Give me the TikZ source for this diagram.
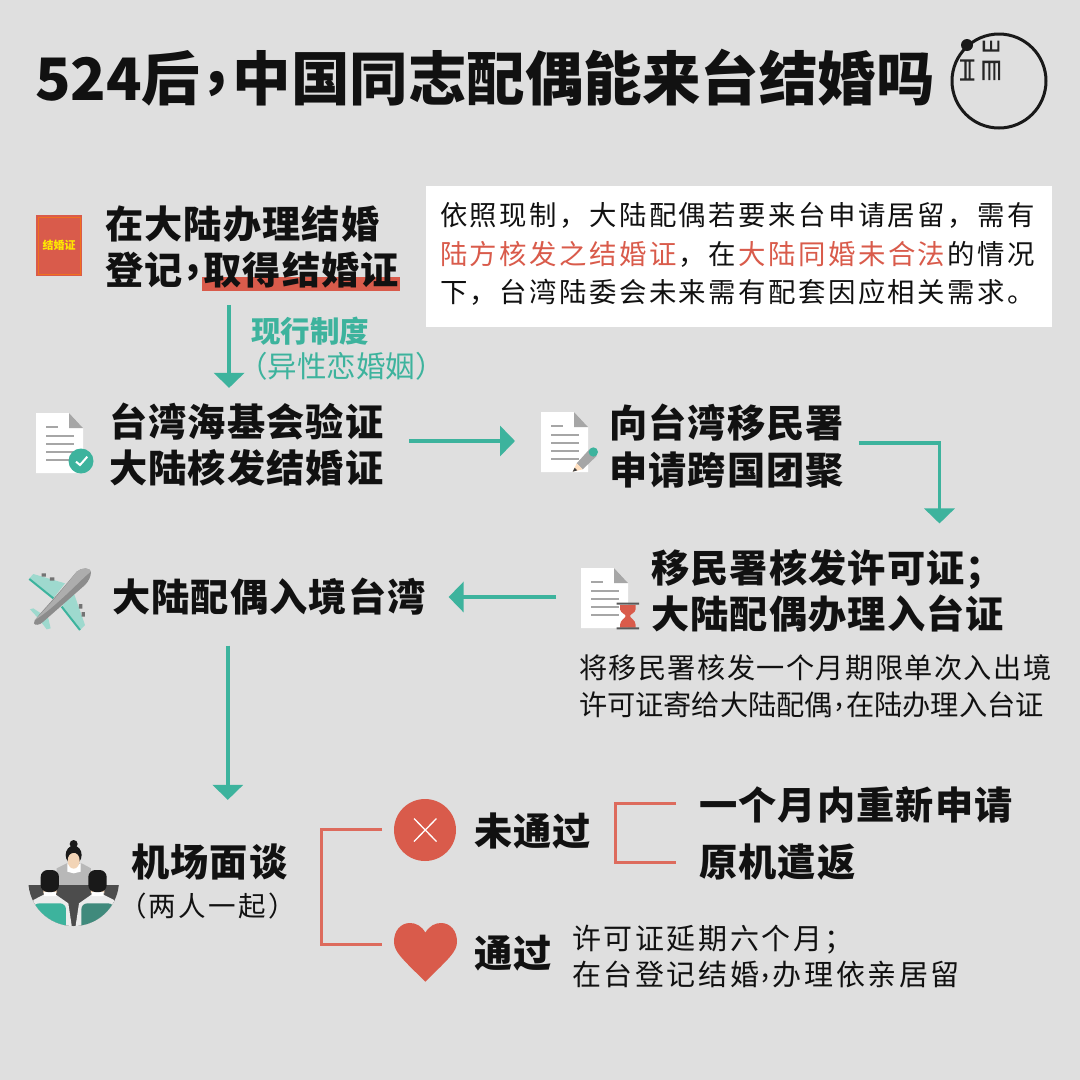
\documentclass[tikz,border=0pt]{standalone}
\usepackage{fontspec}
\setmainfont{Noto Sans CJK SC}
\newfontfamily\spacedfont[LetterSpace=9]{Noto Sans CJK SC}
\newfontfamily\tightfont[LetterSpace=5]{Noto Sans CJK SC}
\newfontfamily\headfont[LetterSpace=3]{Noto Sans CJK SC}
\usetikzlibrary{arrows.meta,calc}
\definecolor{bgcol}{HTML}{DFDFDF}
\definecolor{redcol}{HTML}{D95B4B}
\definecolor{tealcol}{HTML}{3DB39D}
\definecolor{inkcol}{HTML}{111111}
\newcommand{\midcomma}{\hspace{.1em}\raisebox{.3em}{,}\hspace{.1em}}
\tikzset{
	docicon/.pic={
		\fill[white] (0,0) -- (33,0) -- (47,15) -- (47,60) -- (0,60) -- cycle;
		\fill[black!35] (33,0) -- (47,15) -- (33,15) -- cycle;
		\draw[black!35, line width=2pt] (10,14) -- (22,14);
		\foreach \liney in {23,31,39,47} {
			\draw[black!35, line width=2pt] (10,\liney) -- (38,\liney);
		}
	}
}
\begin{document}
\begin{tikzpicture}[x=1pt, y=-1pt,
		every node/.style = {inner sep=0pt, outer sep=0pt, text=inkcol},
		headtext/.style = {anchor=west, align=left, font=\headfont\bfseries\fontsize{38.2}{46}\selectfont},
		bodytext/.style = {anchor=west, align=left, font=\spacedfont\fontsize{27.4}{38.5}\selectfont},
		sidetext/.style = {anchor=west, align=left, font=\spacedfont\fontsize{27.5}{36}\selectfont},
		flow/.style = {draw=tealcol, line width=3.5pt, -{Triangle[width=30pt,length=15pt]}},
		bracket/.style = {draw=redcol!90!white, line width=3pt},
		iconbox/.style = {anchor=north west, minimum width=47pt, minimum height=60pt}]
	\fill[bgcol] (0,0) rectangle (1080,1080);
	\useasboundingbox (0,0) rectangle (1080,1080);

	\node[anchor=west, font=\bfseries\fontsize{58.5}{64}\selectfont] (title) at (35,78) {524后\midcomma 中国同志配偶能来台结婚吗};

	% logo
	\draw[line width=3pt, black!90] (999,81) circle[radius=47];
	\fill[black!90] (967,45) circle[radius=6];
	\begin{scope}[shift={(920,20)}, scale=1/3, black!85]
		\fill (120,118) rectangle (163,125) (120,175) rectangle (163,182) (133,125) rectangle (140,175) (146,125) rectangle (152,175);
		\fill (188,88) rectangle (238,95) (188,62) rectangle (195,95) (210,62) rectangle (216,95) (232,62) rectangle (238,95);
		\fill (187,122) rectangle (240,129) (187,129) rectangle (194,180) (205,129) rectangle (211,180) (220,129) rectangle (226,180) (234,129) rectangle (240,180);
	\end{scope}

	% first row
	\node[fill=redcol, minimum width=46pt, minimum height=61pt, anchor=north west, text=yellow!90!orange, font=\bfseries\fontsize{11}{13}\selectfont] (book) at (36,215) {结婚证};
	\draw[orange!60!redcol, line width=.6pt] ([shift={(2,2)}]book.north west) rectangle ([shift={(-2,-2)}]book.south east);
	\fill[redcol] (202,277) rectangle (400,291);
	\node[headtext] (register) at (105,246.5) {在大陆办理结婚\\登记\midcomma 取得结婚证};
	\node[fill=white, minimum width=626pt, minimum height=141pt, anchor=north west] (notebox) at (426,186) {};
	\node[bodytext] (note) at (440,254) {依照现制，大陆配偶若要来台申请居留，需有\\\textcolor{redcol}{陆方核发之结婚证}\kern2.5pt，在\kern2.5pt\textcolor{redcol}{大陆同婚未合法}\kern2.5pt的情况\\下，台湾陆委会未来需有配套因应相关需求。};
	\node[anchor=west, text=tealcol, font=\bfseries\fontsize{29.5}{34}\selectfont] (rule) at (251,331) {现行制度};
	\node[anchor=west, text=tealcol, font=\fontsize{29.5}{34}\selectfont] (rulenote) at (238,366) {（异性恋婚姻）};

	% second row
	\node[iconbox] (docok) at (36,413) {};
	\pic at (docok.north west) {docicon};
	\fill[tealcol] (81,461) circle[radius=12.5];
	\draw[white, line width=2pt] (76,461.7) -- (80,465) -- (87.3,456.7);
	\node[headtext] (verify) at (109,444.5) {台湾海基会验证\\大陆核发结婚证};
	\node[iconbox] (docpen) at (541,412) {};
	\pic at (docpen.north west) {docicon};
	\begin{scope}[shift={(530,400)}, scale=1/3]
		\fill[black!35] (140,190) -- (178,148) -- (200,168) -- (158,208) -- cycle;
		\fill[orange!25!white] (140,190) -- (158,208) -- (128,215) -- cycle;
		\fill[black!75] (134,203) -- (142,211) -- (128,215) -- cycle;
		\fill[tealcol] (190,156) circle[radius=14];
	\end{scope}
	\node[headtext, font=\headfont\bfseries\fontsize{38.2}{47}\selectfont] (apply) at (609,446) {向台湾移民署\\申请跨国团聚};

	% third row
	\node[iconbox] (docwait) at (581,568) {};
	\pic at (docwait.north west) {docicon};
	\begin{scope}[shift={(570,560)}, scale=1/3]
		\fill[redcol] (150,135) -- (197,135) -- (197,148) .. controls (195,160) and (180,162) .. (180,168) .. controls (180,174) and (197,180) .. (197,195) -- (197,203) -- (150,203) -- (150,195) .. controls (150,180) and (167,174) .. (167,168) .. controls (167,162) and (152,160) .. (150,148) -- cycle;
		\fill[black!65] (140,128) rectangle (207,134) (140,202) rectangle (207,208);
	\end{scope}
	\node[headtext] (permit) at (651,591) {移民署核发许可证；\\大陆配偶办理入台证};
	\node[anchor=west, align=left, font=\tightfont\fontsize{28.2}{37}\selectfont] (permitnote) at (579,686) {将移民署核发一个月期限单次入出境\\\rmfamily 许可证寄给大陆配偶\midcomma 在陆办理入台证};
	\node[headtext] (enter) at (112,597) {大陆配偶入境台湾};

	% plane
	\begin{scope}[shift={(10,550)}, scale=1/3]
		\fill[tealcol!50!white] (58,85) -- (70,72) -- (165,100) -- (130,145) -- cycle;
		\fill[tealcol!50!white] (155,170) -- (190,125) -- (225,225) -- (210,240) -- cycle;
		\fill[tealcol!50!white] (60,178) -- (70,175) -- (115,205) -- (122,235) -- (110,238) -- (85,205) -- cycle;
		\draw[tealcol, line width=2pt] (58,87) -- (130,145) (155,170) -- (210,240);
		\fill[black!55] (95,70) rectangle (108,80) (120,82) rectangle (133,92) (207,162) rectangle (217,176) (215,186) rectangle (225,200);
		\fill[black!45] (72,220) .. controls (72,205) and (100,185) .. (200,65) .. controls (215,52) and (240,52) .. (243,65) .. controls (243,80) and (235,95) .. (225,105) -- (100,215) .. controls (90,225) and (75,228) .. cycle;
		\fill[black!32] (72,212) .. controls (100,185) and (150,130) .. (200,65) .. controls (215,52) and (240,52) .. (243,65) .. controls (225,75) and (140,170) .. (72,212) -- cycle;
	\end{scope}

	% people
	\begin{scope}[shift={(10,820)}, scale=1/3]
		\fill[black!28] (140,145) -- (170,130) -- (215,130) -- (243,145) -- (243,195) -- (140,195) -- cycle;
		\fill[white] (172,130) -- (191,143) -- (212,130) -- (212,155) -- (191,160) -- (172,155) -- cycle;
		\fill[black!90] (191,72) circle[radius=12];
		\fill[black!90] (191,105) ellipse[x radius=24, y radius=28];
		\fill[orange!25!white!95!black] (191,122) ellipse[x radius=18, y radius=24];
		\fill[black!90] (171,108) .. controls (175,85) and (207,85) .. (212,108) .. controls (200,95) and (185,95) .. (171,108) -- cycle;
		\begin{scope}
			\clip (55,195) rectangle (330,330);
			\clip (191,182) circle[radius=136];
			\fill[black!70] (40,195) rectangle (340,330);
			\fill[blue!4!black!8] (70,240) -- (105,222) -- (135,222) -- (175,250) -- (187,330) -- (60,330) -- cycle;
			\fill[blue!4!black!8] (312,240) -- (277,222) -- (247,222) -- (207,250) -- (195,330) -- (322,330) -- cycle;
			\fill[tealcol, rounded corners=6pt] (70,250) -- (168,250) -- (168,340) -- (50,340) -- cycle;
			\fill[tealcol!70!black!90, rounded corners=6pt] (312,250) -- (214,250) -- (214,340) -- (330,340) -- cycle;
		\end{scope}
		\fill[orange!25!white!95!black] (100,205) rectangle (140,220) (243,205) rectangle (283,220);
		\fill[white] (102,216) rectangle (138,228) (245,216) rectangle (281,228);
		\fill[black!90, rounded corners=7pt] (92,150) rectangle (147,216) (235,150) rectangle (290,216);
	\end{scope}
	\node[headtext] (interview) at (131,862) {机场面谈};
	\node[sidetext] (interviewnote) at (119,906) {（两人一起）};

	% results
	\node[circle, fill=redcol, minimum size=62pt] (failicon) at (425,830) {};
	\draw[white, line width=1.3pt] (414,818.5) -- (436.5,841.5) (436.5,818.5) -- (414,841.5);
	\node[minimum size=64pt] (passicon) at (426,945) {};
	\begin{scope}[shift={(310,780)}, scale=1/3]
		\fill[redcol] (346,458) .. controls (335,438) and (318,429) .. (300,429) .. controls (272,429) and (252,452) .. (252,485) .. controls (252,515) and (275,535) .. (346,605) .. controls (417,535) and (441,515) .. (441,485) .. controls (441,452) and (421,429) .. (393,429) .. controls (375,429) and (358,438) .. (346,458) -- cycle;
	\end{scope}
	\node[headtext] (fail) at (474,831) {未通过};
	\node[headtext] (pass) at (474,953) {通过};
	\node[headtext] (refile) at (699,805) {一个月内重新申请};
	\node[headtext] (sendback) at (699,862) {原机遣返};
	\node[anchor=west, align=left, font=\spacedfont\fontsize{29}{36}\selectfont] (passnote) at (572,957) {许可证延期六个月；\\在台登记结婚\midcomma 办理依亲居留};

	% connectors
	\coordinate (downa) at ([xshift=-23pt, yshift=-17pt]register.south);
	\coordinate (downb) at ([yshift=15pt]verify.north);
	\draw[flow] (downa) -- (downa |- downb);
	\coordinate (righta) at ([xshift=26pt]verify.east);
	\coordinate (rightb) at ([xshift=-26pt, yshift=1pt]docpen.west);
	\draw[flow] (righta |- rightb) -- (rightb);
	\coordinate (turna) at ([xshift=15pt, yshift=3pt]apply.east);
	\coordinate (turnb) at ([xshift=112pt, yshift=26pt]permit.north);
	\draw[flow] (turna) -| (turnb);
	\coordinate (lefta) at ([xshift=-25pt]docwait.west);
	\coordinate (leftb) at ([xshift=23pt]enter.east);
	\draw[flow] (lefta |- leftb) -- (leftb);
	\coordinate (longa) at ([xshift=-41pt, yshift=-30pt]enter.south);
	\coordinate (longb) at ([yshift=44pt]interview.north);
	\draw[flow] (longa) -- (longa |- longb);
	\draw[bracket] ([xshift=-12pt, yshift=1pt]failicon.west) -- ++(-61,0) |- ([xshift=-12pt, yshift=1pt]passicon.west);
	\draw[bracket] ([xshift=-23pt, yshift=2pt]refile.west) -- ++(-61,0) |- ([xshift=-23pt]sendback.west);
\end{tikzpicture}
\end{document}
